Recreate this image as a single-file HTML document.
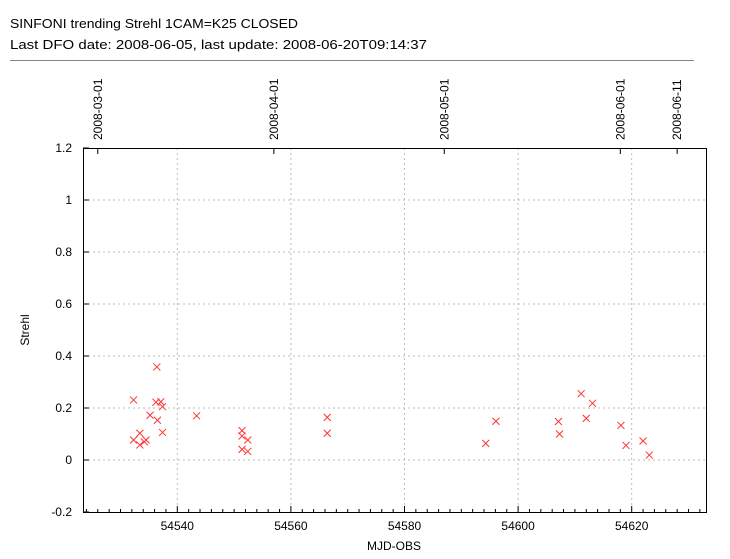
<!DOCTYPE html>
<html><head><meta charset="utf-8"><style>
body{margin:0;background:#fff;font-family:"Liberation Sans",sans-serif}
svg text{font-family:"Liberation Sans",sans-serif;font-size:12px;fill:#000}
</style></head><body>
<svg id="c" width="730" height="554">
<text x="10" y="28" style="font-size:13px" textLength="288" lengthAdjust="spacingAndGlyphs">SINFONI trending Strehl 1CAM=K25 CLOSED</text>
<text x="10" y="49" style="font-size:13px" textLength="417" lengthAdjust="spacingAndGlyphs">Last DFO date: 2008-06-05, last update: 2008-06-20T09:14:37</text>
<line x1="10" y1="60.5" x2="694" y2="60.5" stroke="#888"/>
<g id="grid"></g><g id="axes"></g><g id="pts"></g>
<text x="394" y="550" text-anchor="middle">MJD-OBS</text>
<text transform="translate(29,330) rotate(-90)" text-anchor="middle">Strehl</text>
</svg>
<script>
const mjd=[54536.4,54532.3,54536.25,54537.1,54537.4,54535.2,54536.5,54537.4,54533.4,54532.3,54533.4,54534.2,54534.5,54543.4,54551.4,54551.4,54552.4,54551.4,54552.4,54566.4,54566.4,54596.1,54594.3,54607.1,54607.3,54611.1,54613.1,54612,54618.1,54619,54622,54623.1];
const strehl=[0.358,0.231,0.222,0.224,0.205,0.172,0.153,0.106,0.103,0.077,0.058,0.07,0.077,0.17,0.113,0.092,0.077,0.041,0.033,0.164,0.103,0.149,0.064,0.148,0.1,0.255,0.218,0.16,0.133,0.056,0.073,0.019];
const xTicks=[54540,54560,54580,54600,54620];
const yTicks=[-0.2,0,0.2,0.4,0.6,0.8,1,1.2];
const yLabels=["-0.2","0","0.2","0.4","0.6","0.8","1","1.2"];
const dateTicks=[54526,54557,54587,54618,54628];
const dateLabels=["2008-03-01","2008-04-01","2008-05-01","2008-06-01","2008-06-11"];
const L=83,R=706,T=148,B=512;
const X=d=>177.3+(d-54540)*5.68;
const Y=v=>460-v*260;
const NS="http://www.w3.org/2000/svg";
function mk(p,t,a){const e=document.createElementNS(NS,t);for(const k in a)e.setAttribute(k,a[k]);p.appendChild(e);return e;}
const g=document.getElementById('grid'),ax=document.getElementById('axes'),pts=document.getElementById('pts');
xTicks.forEach(d=>{const x=X(d);
 const l=mk(g,'line',{x1:x,y1:T,x2:x,y2:B,stroke:'#bbb','stroke-dasharray':'2,3'});
 
 const t=mk(ax,'text',{x:x,y:530,'text-anchor':'middle'});t.textContent=d;
 });
for(let d=54524;d<=54632;d+=2){const x=X(d);const big=xTicks.includes(d);
 const l=mk(ax,'line',{x1:x,y1:B,x2:x,y2:B-(big?6:3),stroke:'#000'});
 }
yTicks.forEach((v,i)=>{const y=Y(v);
 if(i>0&&i<yTicks.length-1){const l=mk(g,'line',{x1:L,y1:y,x2:R,y2:y,stroke:'#bbb','stroke-dasharray':'2,3'});
 }
 const tk=mk(ax,'line',{x1:L,y1:y,x2:L+6,y2:y,stroke:'#000'});
 
 const t=mk(ax,'text',{x:72,y:y+4,'text-anchor':'end'});t.textContent=yLabels[i];
 });
dateTicks.forEach((d,i)=>{const x=X(d);
 const tk=mk(ax,'line',{x1:x,y1:T,x2:x,y2:T+6,stroke:'#000'});
 
 const t=mk(ax,'text',{transform:`translate(${x+4},${T-8}) rotate(-90)`});t.textContent=dateLabels[i];
 });
const fr=mk(ax,'rect',{x:L+0.5,y:T+0.5,width:R-L,height:B-T,fill:'none',stroke:'#000'});

mjd.forEach((d,i)=>{const x=X(d),y=Y(strehl[i]);
 const p=mk(pts,'path',{d:`M${x-3.5},${y-3.5}L${x+3.5},${y+3.5}M${x-3.5},${y+3.5}L${x+3.5},${y-3.5}`,stroke:'#f33','stroke-width':1});
 });
</script>
</body></html>
